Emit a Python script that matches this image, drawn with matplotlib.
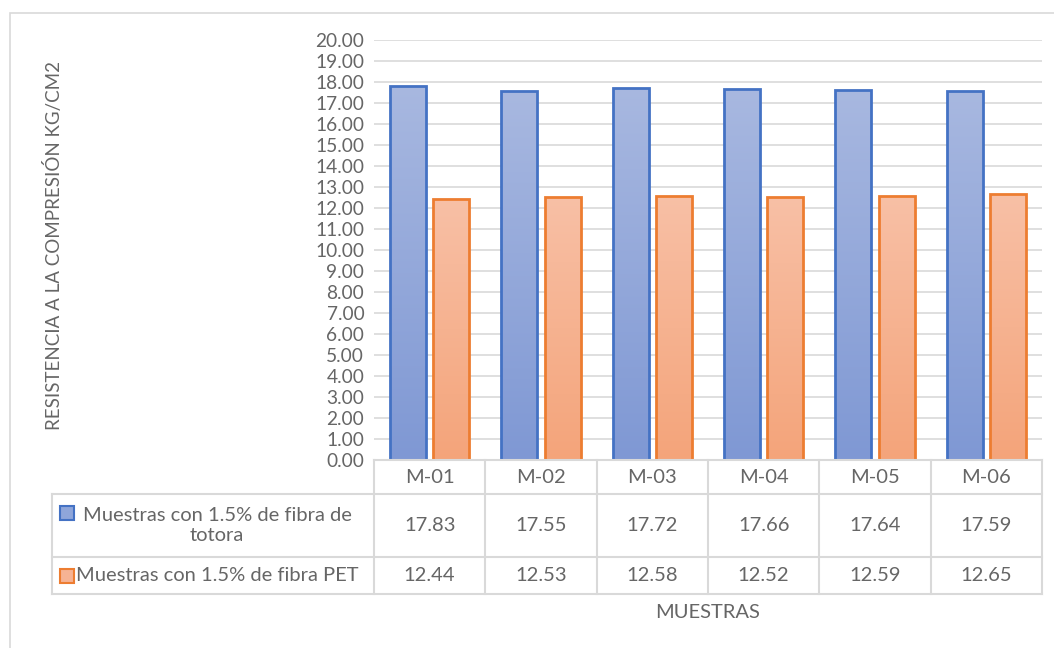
import numpy as np
import matplotlib.pyplot as plt
from matplotlib.patches import Rectangle
from matplotlib.colors import LinearSegmentedColormap

plt.rcParams['font.family'] = ['Lato', 'DejaVu Sans']

muestras = ["M-01", "M-02", "M-03", "M-04", "M-05", "M-06"]
totora = [17.83, 17.55, 17.72, 17.66, 17.64, 17.59]
pet = [12.44, 12.53, 12.58, 12.52, 12.59, 12.65]
serie_totora = "Muestras con 1.5% de fibra de\ntotora"
serie_pet = "Muestras con 1.5% de fibra PET"
ylabel = "RESISTENCIA A LA COMPRESIÓN KG/CM2"
xlabel = "MUESTRAS"

txt = "#666666"
grid = "#D9D9D9"
W, H = 1054, 648
fs = 14.5

fig = plt.figure(figsize=(W / 100, H / 100), dpi=100)

# outer chart border
fig.patches.append(Rectangle((10 / W, -0.1), 1.2, 0.1 + (H - 13) / H, transform=fig.transFigure,
                             fill=False, edgecolor=grid, lw=1.2))

def fx(px):
    return px / W

def fy(py):
    return 1 - py / H

x0, x1, y_top, y_bot = 374, 1042, 40, 460
ax = fig.add_axes([fx(x0), fy(y_bot), fx(x1) - fx(x0), fy(y_top) - fy(y_bot)])
ax.set_yticks(np.arange(0, 20.01, 1))
ax.set_yticklabels([f"{v:.2f}" for v in np.arange(0, 20.01, 1)], fontsize=13.8, color=txt)
ax.tick_params(axis='y', length=0, pad=7)
ax.set_xticks([])
for s in ax.spines.values():
    s.set_visible(False)
ax.grid(axis='y', color=grid, lw=1.2)
ax.set_axisbelow(True)

cm_blue = LinearSegmentedColormap.from_list("b", ["#7F98D4", "#A8B8E0"])
cm_orng = LinearSegmentedColormap.from_list("o", ["#F4A47A", "#F8C0A6"])
grad = np.linspace(0, 1, 256).reshape(-1, 1)

x = np.arange(len(muestras))
bw = 0.325
gap = 0.065
bars1 = ax.bar(x - (bw + gap) / 2, totora, bw, facecolor='none', edgecolor="#4472C4", lw=2, zorder=3)
bars2 = ax.bar(x + (bw + gap) / 2, pet, bw, facecolor='none', edgecolor="#ED7D31", lw=2, zorder=3)
for bars, cmap in ((bars1, cm_blue), (bars2, cm_orng)):
    for b in bars:
        bx, by = b.get_x(), b.get_y()
        im = ax.imshow(grad, cmap=cmap, origin='lower', aspect='auto',
                       extent=[bx, bx + b.get_width(), by, by + b.get_height()], zorder=2)
        im.set_clip_path(b)
ax.set_xlim(-0.5, len(muestras) - 0.5)
ax.set_ylim(0, 20)

fig.text(fx(54), fy(245), ylabel, rotation=90, ha='center', va='center', fontsize=13.5, color=txt)

# data table
tl = 52
rows = [460, 494, 557, 594]
tab = fig.add_axes([fx(tl), fy(rows[-1]), fx(x1) - fx(tl), fy(rows[0]) - fy(rows[-1])])
unit = (x1 - x0) / len(muestras)
left = -0.5 - (x0 - tl) / unit
tab.set_xlim(left, len(muestras) - 0.5)
tab.set_ylim(rows[-1], rows[0])
tab.axis('off')
lk = dict(color=grid, lw=1.5, clip_on=False)
tab.plot([-0.5, len(muestras) - 0.5], [rows[0], rows[0]], **lk)
for r in rows[1:]:
    tab.plot([left, len(muestras) - 0.5], [r, r], **lk)
for c in np.arange(-0.5, len(muestras), 1):
    tab.plot([c, c], [rows[0], rows[-1]], **lk)
tab.plot([left, left], [rows[1], rows[-1]], **lk)

hc = (rows[0] + rows[1]) / 2
r1 = (rows[1] + rows[2]) / 2
r2 = (rows[2] + rows[3]) / 2
for i, m in enumerate(muestras):
    tab.text(i, hc, m, ha='center', va='center', fontsize=fs, color=txt)
    tab.text(i, r1, f"{totora[i]:.2f}", ha='center', va='center', fontsize=fs, color=txt)
    tab.text(i, r2, f"{pet[i]:.2f}", ha='center', va='center', fontsize=fs, color=txt)

lc = left + (217 - tl) / unit
tab.text(lc, r1, serie_totora, ha='center', va='center', fontsize=fs, color=txt,
         multialignment='center', linespacing=1.25)
tab.text(lc, r2, serie_pet, ha='center', va='center', fontsize=fs, color=txt)
mk = left + (66.5 - tl) / unit
tab.plot([mk], [r1 - 13], marker='s', ms=9.5, mfc="#8FA6DA", mec="#4472C4", mew=1.5, clip_on=False)
tab.plot([mk], [r2], marker='s', ms=9.5, mfc="#F6B394", mec="#ED7D31", mew=1.5, clip_on=False)

fig.text(fx(708), fy(612), xlabel, ha='center', va='center', fontsize=fs, color=txt)

fig.savefig("out.png", dpi=100)
